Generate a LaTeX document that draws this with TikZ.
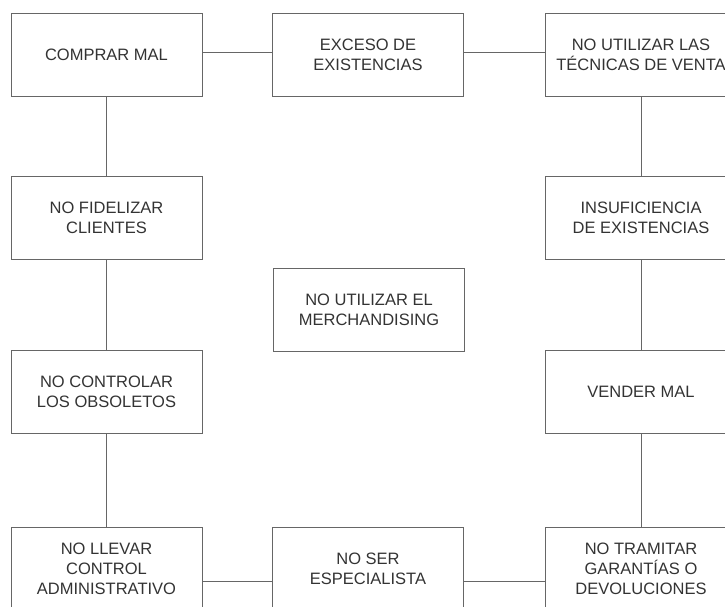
\documentclass[tikz,border=0pt]{standalone}
\usepackage{fontspec}
\setmainfont{Liberation Sans}
\usepackage{tikz}
\usepackage{xcolor}
\definecolor{linea}{HTML}{666666}
\definecolor{texto}{HTML}{333333}

\begin{document}
\begin{tikzpicture}[x=1pt, y=-1pt,
        caja/.style={draw=linea, line width=0.9pt, text=texto, minimum width=191pt, minimum height=83pt,
            inner sep=0pt, align=center, font=\fontsize{16.5}{20}\selectfont}]
        \clip (0,0) rectangle (725,606);
        \node[caja] (comprar) at (106.5,54.5) {COMPRAR MAL};
        \node[caja] (exceso) at (368,54.5) {EXCESO DE\\EXISTENCIAS};
        \node[caja] (tecnicas) at (641,54.5) {NO UTILIZAR LAS\\TÉCNICAS DE VENTA};
        \node[caja] (fidelizar) at (106.5,217.5) {NO FIDELIZAR\\CLIENTES};
        \node[caja] (insuficiencia) at (641,217.5) {INSUFICIENCIA\\DE EXISTENCIAS};
        \node[caja] (merch) at (369,310) {NO UTILIZAR EL\\MERCHANDISING};
        \node[caja] (obsoletos) at (106.5,392) {NO CONTROLAR\\LOS OBSOLETOS};
        \node[caja] (vender) at (641,392) {VENDER MAL};
        \node[caja] (llevar) at (106.5,568.5) {NO LLEVAR\\CONTROL\\ADMINISTRATIVO};
        \node[caja] (especialista) at (368,568.5) {NO SER\\ESPECIALISTA};
        \node[caja] (tramitar) at (641,568.5) {NO TRAMITAR\\GARANTÍAS O\\DEVOLUCIONES};
        \draw[linea, line width=0.9pt] ([yshift=2.5pt]comprar.east) -- ([yshift=2.5pt]exceso.west);
        \draw[linea, line width=0.9pt] ([yshift=2.5pt]exceso.east) -- ([yshift=2.5pt]tecnicas.west);
        \draw[linea, line width=0.9pt] ([yshift=-12.5pt]llevar.east) -- ([yshift=-12.5pt]especialista.west);
        \draw[linea, line width=0.9pt] ([yshift=-12.5pt]especialista.east) -- ([yshift=-12.5pt]tramitar.west);
        \foreach \a/\b in {comprar/fidelizar, fidelizar/obsoletos, obsoletos/llevar,
            tecnicas/insuficiencia, insuficiencia/vender, vender/tramitar} {
            \draw[linea, line width=0.9pt] (\a.south) -- (\b.north);
        }
    \end{tikzpicture}
\end{document}
